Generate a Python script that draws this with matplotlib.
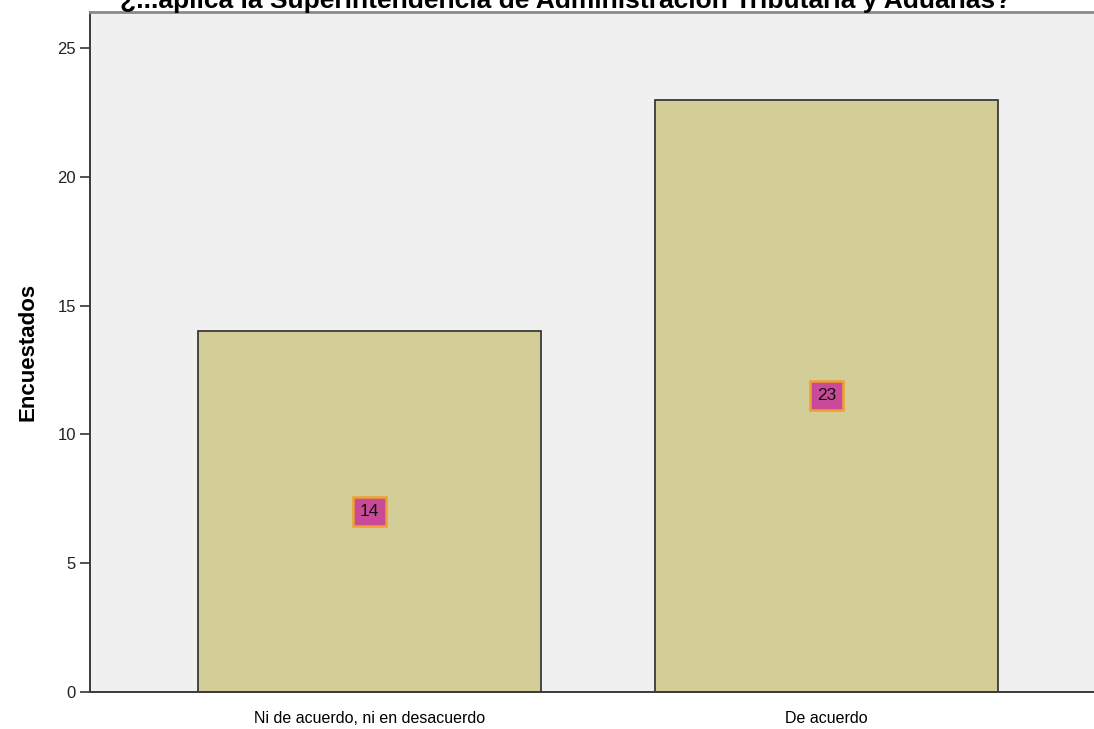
import matplotlib.pyplot as plt

categorias = ['Ni de acuerdo, ni en desacuerdo', 'De acuerdo']
encuestados = [14, 23]
titulo = '¿...aplica la Superintendencia de Administración Tributaria y Aduanas?'

plt.rcParams['font.family'] = ['Liberation Sans', 'DejaVu Sans']

fig = plt.figure(figsize=(10.94, 7.29), dpi=100)
ax = fig.add_axes([90/1094, 1-692/729, 1016/1094, 680/729])
ax.set_facecolor('#f0f0f0')

pos = list(range(len(categorias)))
barras = ax.bar(pos, encuestados, width=0.75, color='#d3ce97', edgecolor='#3a3a3a', linewidth=1.3, zorder=2)

# etiquetas de valor en el centro de cada barra
for b, v in zip(barras, encuestados):
  ax.text(b.get_x() + b.get_width()/2, v/2, str(v), ha='center', va='center', fontsize=12.5, color='#111111',
          bbox=dict(boxstyle='square,pad=0.4', facecolor='#c84a98', edgecolor='#f0a030', linewidth=1.8), zorder=3)

ax.set_xlim(-0.6116, 1.6116)
ax.set_ylim(0, 26.4)
ax.set_yticks([0, 5, 10, 15, 20, 25])
ax.set_xticks(pos)
ax.set_xticklabels(categorias, fontsize=11.5)
ax.tick_params(axis='x', length=0, pad=14)
ax.tick_params(axis='y', length=7, width=1.2, labelsize=12, color='#333333', labelcolor='#222222', pad=3)
ax.set_ylabel('Encuestados', fontsize=16, fontweight='bold', labelpad=14)

for s in ['left', 'bottom']:
  ax.spines[s].set_color('#3a3a3a')
  ax.spines[s].set_linewidth(1.4)
ax.spines['top'].set_color('#8a8a8a')
ax.spines['top'].set_linewidth(2)
ax.spines['right'].set_visible(False)

fig.text(120/1094, 1 - 8/729, titulo, ha='left', va='baseline', fontsize=19, fontweight='bold')

plt.savefig('out.png', dpi=100)
